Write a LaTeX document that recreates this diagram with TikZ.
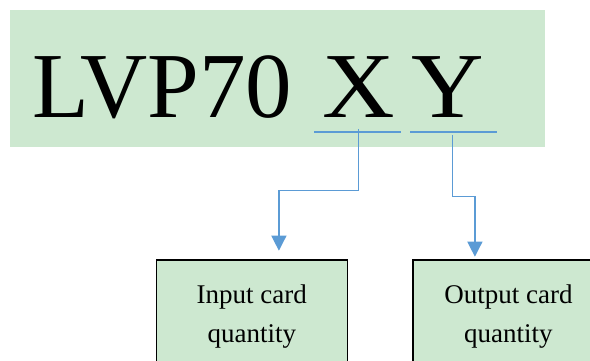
\documentclass[tikz,border=0pt]{standalone}
\usepackage{fontspec}
\setmainfont{Liberation Serif}
\usetikzlibrary{arrows.meta,positioning}
\definecolor{bannergreen}{RGB}{205,232,208}
\definecolor{linkblue}{RGB}{91,155,213}

\begin{document}
\begin{tikzpicture}[x=1pt,y=-1pt,
  banner/.style={rectangle,fill=bannergreen,inner sep=0pt,minimum width=535pt,minimum height=137pt,anchor=north west},
  code/.style={anchor=base west,inner sep=0pt,font=\fontsize{93}{93}\selectfont},
  box/.style={rectangle,draw,line width=1.2pt,fill=bannergreen,minimum width=191pt,minimum height=114pt,anchor=north west,align=center,font=\fontsize{27}{39}\selectfont},
  uline/.style={linkblue,line width=1.8pt},
  arr/.style={-{Triangle[length=15pt,width=15pt]},linkblue,line width=1.3pt}]
  \useasboundingbox (0,0) rectangle (590,361);
  \node[banner] (banner) at (10,10) {};
  \node[code] (model) at (32,117.3) {LVP70};
  \node[code] (xvar) at (322.3,117.3) {\scalebox{1.08}[1]{X}};
  \node[code] (yvar) at (411.2,117.3) {\scalebox{1.08}[1]{Y}};
  % underlines below X and Y
  \coordinate (xl) at (314,132);
  \coordinate (xr) at (400.7,132);
  \coordinate (yl) at (410,132);
  \coordinate (yr) at (496.7,132);
  \draw[uline] (xl) -- (xr);
  \draw[uline] (yl) -- (yr);
  \node[box] (inbox) at (155.7,259.3) {Input card\\quantity};
  \node[box] (outbox) at (412.3,259.3) {Output card\\quantity};
  \coordinate (xs) at (358.3,129);
  \coordinate (ys) at (452.3,135);
  \draw[arr,shorten >=8.6pt] (xs) -- ++(0,61.7) -| ([xshift=27.1pt]inbox.north);
  \draw[arr,shorten >=2.6pt] (ys) -- ++(0,61.7) -| ([xshift=-33.5pt]outbox.north);
\end{tikzpicture}
\end{document}
